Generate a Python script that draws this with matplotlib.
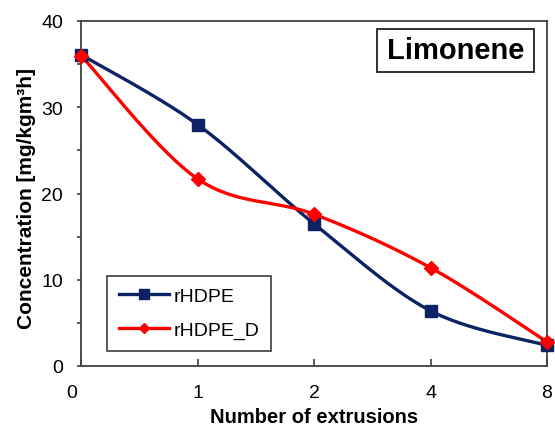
import numpy as np
import matplotlib
matplotlib.use("Agg")
import matplotlib.pyplot as plt
from matplotlib.ticker import MultipleLocator
from matplotlib.patches import Rectangle
from matplotlib.transforms import ScaledTranslation

plt.rcParams['font.family'] = ['Liberation Sans', 'DejaVu Sans']

extrusions = ["0", "1", "2", "4", "8"]
rhdpe = [36.1, 28.0, 16.5, 6.4, 2.4]
rhdpe_d = [36.0, 21.7, 17.6, 11.4, 2.8]

NAVY = "#0c2265"
RED = "#ff0000"


def smooth(xs, ys, n=40):
    """Cubic Bezier smoothing through every point (spreadsheet style)."""
    xs = np.asarray(xs, float)
    ys = np.asarray(ys, float)
    px = np.concatenate([[xs[0]], xs, [xs[-1]]])
    py = np.concatenate([[ys[0]], ys, [ys[-1]]])
    out_x, out_y = [], []
    t = np.linspace(0, 1, n)
    for i in range(1, len(px) - 2):
        p0 = np.array([px[i], py[i]])
        p3 = np.array([px[i + 1], py[i + 1]])
        p1 = p0 + (np.array([px[i + 1], py[i + 1]]) - np.array([px[i - 1], py[i - 1]])) / 6
        p2 = p3 - (np.array([px[i + 2], py[i + 2]]) - np.array([px[i], py[i]])) / 6
        b = ((1 - t) ** 3)[:, None] * p0 + (3 * (1 - t) ** 2 * t)[:, None] * p1 \
            + (3 * (1 - t) * t ** 2)[:, None] * p2 + (t ** 3)[:, None] * p3
        out_x.extend(b[:, 0])
        out_y.extend(b[:, 1])
    return np.array(out_x), np.array(out_y)


fig = plt.figure(figsize=(5.55, 4.31), dpi=100)
ax = fig.add_axes([81 / 555, 1 - 367 / 431, (547 - 81) / 555, (367 - 22) / 431])

pos = np.arange(len(extrusions))
for vals, color, marker, ms, label in [
    (rhdpe, NAVY, "s", 9, "rHDPE"),
    (rhdpe_d, RED, "D", 7.5, "rHDPE_D"),
]:
    sx, sy = smooth(pos, vals)
    ax.plot(sx, sy, color=color, lw=2.4, zorder=3, solid_capstyle="round")
    ax.plot(pos, vals, ls="none", marker=marker, ms=ms, color=color, zorder=4, clip_on=False)
    ax.plot([], [], color=color, lw=2.4, marker=marker, ms=ms - 2.5, label=label)

ax.set_xlim(0, 4)
ax.set_ylim(0, 40)
ax.set_xticks(pos)
ax.set_xticklabels(extrusions)
ax.yaxis.set_major_locator(MultipleLocator(10))
ax.yaxis.set_minor_locator(MultipleLocator(5))
ax.tick_params(axis="x", direction="in", length=5, width=1.2, colors="#404040",
               labelcolor="black", labelsize=14, pad=13)
ax.tick_params(axis="y", which="both", direction="out", length=3, width=1.2,
               colors="#404040", labelcolor="black", labelsize=14, pad=10)
ax.tick_params(axis="x", which="minor", length=0)
# the first category label sits a little left of the axis corner
first = ax.get_xticklabels()[0]
first.set_transform(first.get_transform() + ScaledTranslation(-9 / 100, 0, fig.dpi_scale_trans))

for s in ax.spines.values():
    s.set_color("#404040")
    s.set_linewidth(1.3)

ax.set_xlabel("Number of extrusions", fontsize=14.5, fontweight="bold", labelpad=4)
ax.set_ylabel("Concentration [mg/kgm³h]", fontsize=15, fontweight="bold")
ax.yaxis.set_label_coords(-0.096, 0.487)

ax.add_patch(Rectangle((0.635, 0.852), 0.337, 0.125, transform=ax.transAxes,
                       fc="white", ec="#202020", lw=1.3, zorder=5))
ax.text(0.8036, 0.9145, "Limonene", transform=ax.transAxes, ha="center", va="center",
        fontsize=21, fontweight="bold", zorder=6)

leg = ax.legend(loc="lower left", bbox_to_anchor=(0.056, 0.0435), fontsize=14,
                frameon=True, fancybox=False, edgecolor="#202020", handlelength=2.6,
                borderpad=0.6, labelspacing=0.85, handletextpad=0.2, borderaxespad=0)
leg.get_frame().set_linewidth(1.3)

fig.savefig("out.png", dpi=100)
